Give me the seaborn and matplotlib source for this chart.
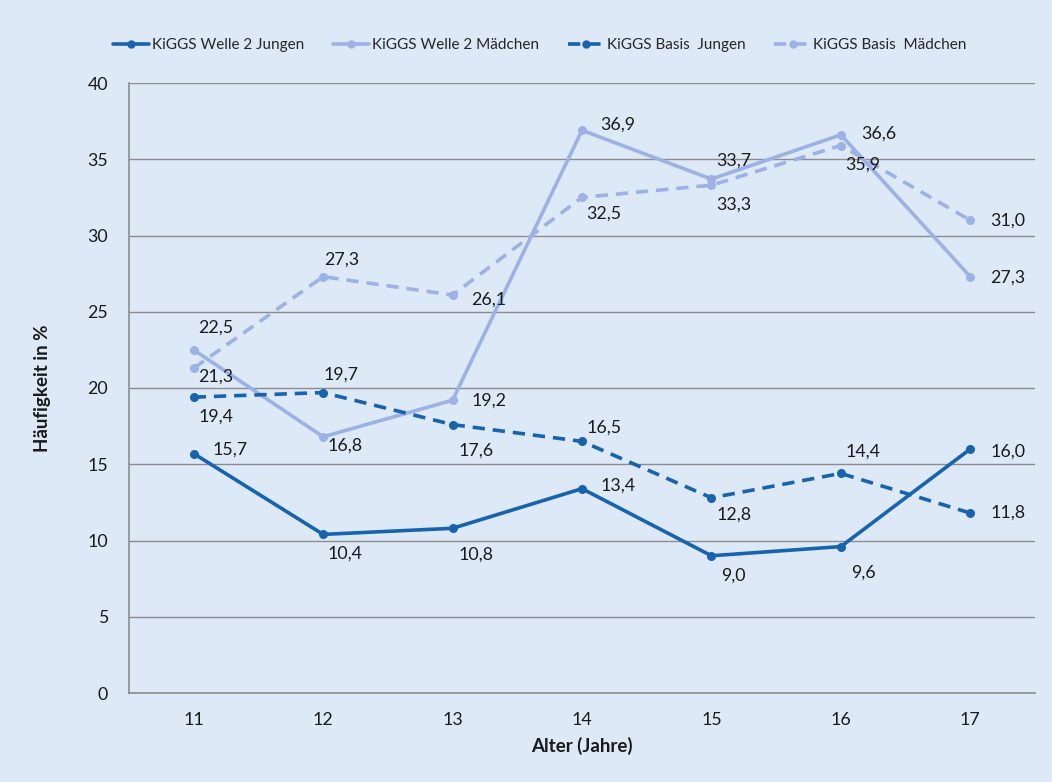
import matplotlib
matplotlib.use("Agg")
import matplotlib.pyplot as plt
import seaborn as sns
import pandas as pd
from matplotlib.lines import Line2D

ages = [11, 12, 13, 14, 15, 16, 17]
welle2_jungen = [15.7, 10.4, 10.8, 13.4, 9.0, 9.6, 16.0]
welle2_maedchen = [22.5, 16.8, 19.2, 36.9, 33.7, 36.6, 27.3]
basis_jungen = [19.4, 19.7, 17.6, 16.5, 12.8, 14.4, 11.8]
basis_maedchen = [21.3, 27.3, 26.1, 32.5, 33.3, 35.9, 31.0]

series_names = ["KiGGS Welle 2 Jungen", "KiGGS Welle 2 Mädchen",
                "KiGGS Basis  Jungen", "KiGGS Basis  Mädchen"]
y_ticks = [0, 5, 10, 15, 20, 25, 30, 35, 40]

DARK = "#1763ad"
LIGHT = "#9cb2e4"
BG = "#dde9f7"
GRID = "#8c8c8c"

sns.set_theme(style="white")
plt.rcParams["font.family"] = ["Lato", "DejaVu Sans"]

fig = plt.figure(figsize=(10.52, 7.82), dpi=100, facecolor=BG)
ax = fig.add_axes([129 / 1052, 1 - 693 / 782, (1035 - 129) / 1052, (693 - 83) / 782])
ax.set_facecolor(BG)

DASH = (0, (3.4, 2.2))
styles = [
    (welle2_jungen, DARK, "-"),
    (welle2_maedchen, LIGHT, "-"),
    (basis_jungen, DARK, DASH),
    (basis_maedchen, LIGHT, DASH),
]

# label offsets in points (dx, dy) per series, per age
offsets = [
    [(26, 3), (16, -14), (17, -19), (26, 2), (16, -14), (16, -19), (27, -2)],
    [(16, 16), (16, -6), (26, 0), (26, 4), (16, 13), (27, 1), (27, -1)],
    [(16, -14), (13, 13), (17, -19), (16, 10), (16, -12), (16, 16), (27, 0)],
    [(16, -6), (13, 12), (26, -3), (16, -12), (16, -14), (16, -14), (27, 0)],
]

for (vals, color, ls), name, offs in zip(styles, series_names, offsets):
    df = pd.DataFrame({"age": ages, "value": vals})
    sns.lineplot(data=df, x="age", y="value", ax=ax, color=color, linestyle=ls,
                 linewidth=2.6, marker="o", markersize=6.5, markeredgewidth=0,
                 label=name, legend=False, zorder=3)
    for a, v, (dx, dy) in zip(ages, vals, offs):
        ax.annotate(f"{v:.1f}".replace(".", ","), (a, v), xytext=(dx, dy),
                    textcoords="offset points", ha="center", va="center",
                    fontsize=12.8, color="#1a1a1a", zorder=4)

ax.set_xlim(10.5, 17.5)
ax.set_ylim(0, 40)
ax.set_yticks(y_ticks)
ax.set_yticklabels([str(t) for t in y_ticks], fontsize=12.8, color="#1a1a1a")
ax.set_xticks(ages)
ax.set_xticklabels([str(a) for a in ages], fontsize=12.8, color="#1a1a1a")
ax.set_xticks([a + 0.5 for a in ages[:-1]] + [10.5], minor=True)
ax.tick_params(axis="x", which="major", length=0, pad=14)
ax.tick_params(axis="x", which="minor", length=6, width=1, color=GRID, direction="out")
ax.tick_params(axis="y", which="major", length=5, width=1, color=GRID, direction="out", pad=10)

ax.grid(axis="y", color=GRID, linewidth=1)
ax.set_axisbelow(True)
for side in ["top", "right"]:
    ax.spines[side].set_visible(False)
for side in ["left", "bottom"]:
    ax.spines[side].set_color(GRID)
    ax.spines[side].set_linewidth(1.2)

ax.set_xlabel("Alter (Jahre)", fontsize=13.5, fontweight="bold", labelpad=6,
              color="#1a1a1a")
ax.set_ylabel("Häufigkeit in %", fontsize=13.5, fontweight="bold", labelpad=26,
              color="#1a1a1a")

handles = [Line2D([0], [0], color=c, linestyle=ls, linewidth=2.6, marker="o",
                  markersize=6, markeredgewidth=0) for _, c, ls in styles]
fig.legend(handles, series_names, loc="center", bbox_to_anchor=(0.513, 1 - 45 / 782),
           ncol=4, frameon=False, fontsize=11, handlelength=2.4,
           handletextpad=0.15, columnspacing=1.9)

fig.savefig("out.png", dpi=100, facecolor=BG)
